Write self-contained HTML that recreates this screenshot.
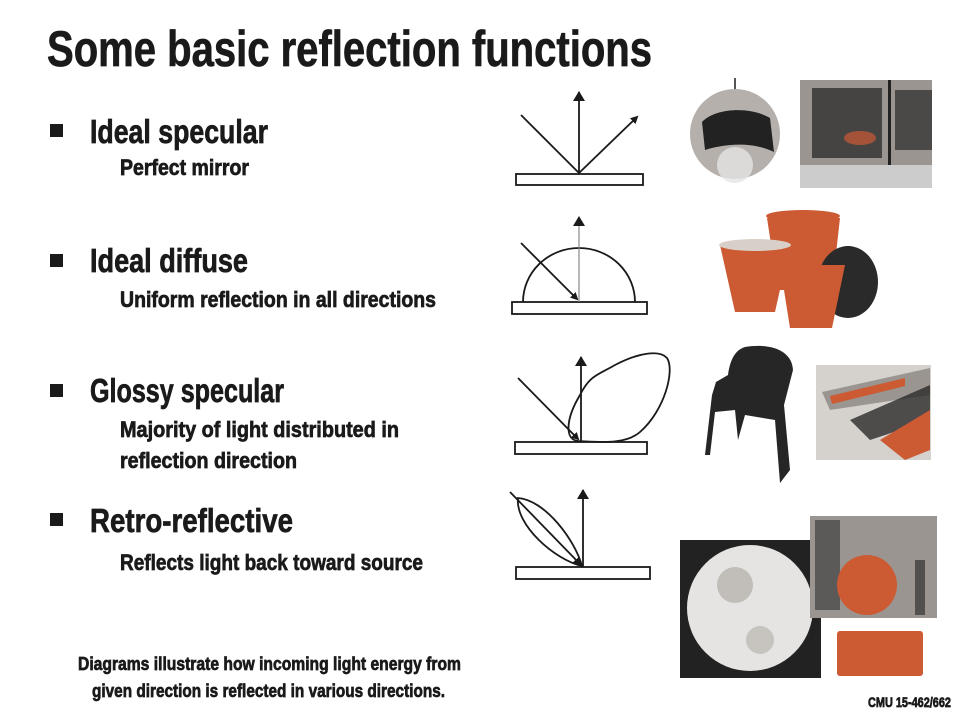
<!DOCTYPE html>
<html><head><meta charset="utf-8"><style>
html,body{margin:0;padding:0;background:#fff}
svg{display:block}
text{font-family:"Liberation Sans Narrow","Liberation Sans",sans-serif;font-weight:bold;fill:#1a1a1a;stroke:#1a1a1a;stroke-width:0.7}
</style></head><body>
<svg width="960" height="720" viewBox="0 0 960 720">
<defs>
<marker id="ah" markerWidth="8" markerHeight="8" refX="6" refY="4" orient="auto" markerUnits="userSpaceOnUse"><path d="M0,0 L8,4 L0,8 z" fill="#1a1a1a"/></marker>
<marker id="ahb" markerWidth="10" markerHeight="12" refX="9" refY="6" orient="auto" markerUnits="userSpaceOnUse"><path d="M0,0 L10,6 L0,12 z" fill="#1a1a1a"/></marker>
</defs>
<text x="47" y="66" font-size="50" stroke-width="1.4" textLength="605" lengthAdjust="spacingAndGlyphs">Some basic reflection functions</text>

<g>
<rect x="50" y="124" width="13" height="13" fill="#1a1a1a"/>
<text x="90" y="143" font-size="33" stroke-width="1" textLength="178" lengthAdjust="spacingAndGlyphs">Ideal specular</text>
<text x="120" y="175" font-size="22" textLength="129" lengthAdjust="spacingAndGlyphs">Perfect mirror</text>
</g>
<g>
<rect x="50" y="254" width="13" height="13" fill="#1a1a1a"/>
<text x="90" y="272" font-size="33" stroke-width="1" textLength="158" lengthAdjust="spacingAndGlyphs">Ideal diffuse</text>
<text x="120" y="307" font-size="22" textLength="316" lengthAdjust="spacingAndGlyphs">Uniform reflection in all directions</text>
</g>
<g>
<rect x="50" y="384" width="13" height="13" fill="#1a1a1a"/>
<text x="90" y="402" font-size="33" stroke-width="1" textLength="194" lengthAdjust="spacingAndGlyphs">Glossy specular</text>
<text x="120" y="437" font-size="22" textLength="279" lengthAdjust="spacingAndGlyphs">Majority of light distributed in</text>
<text x="120" y="468" font-size="22" textLength="177" lengthAdjust="spacingAndGlyphs">reflection direction</text>
</g>
<g>
<rect x="50" y="513" width="13" height="13" fill="#1a1a1a"/>
<text x="90" y="532" font-size="33" stroke-width="1" textLength="203" lengthAdjust="spacingAndGlyphs">Retro-reflective</text>
<text x="120" y="570" font-size="22" textLength="303" lengthAdjust="spacingAndGlyphs">Reflects light back toward source</text>
</g>
<g>
<text x="78" y="670" font-size="18" textLength="383" lengthAdjust="spacingAndGlyphs">Diagrams illustrate how incoming light energy from</text>
<text x="92" y="697" font-size="18" textLength="353" lengthAdjust="spacingAndGlyphs">given direction is reflected in various directions.</text>
</g>
<text x="868" y="707" font-size="14" stroke-width="0.4" textLength="83" lengthAdjust="spacingAndGlyphs">CMU 15-462/662</text>

<g stroke="#1a1a1a" stroke-width="1.8" fill="none">
<rect x="516" y="174" width="127" height="11" fill="#fff"/>
<line x1="579" y1="174" x2="579" y2="92" marker-end="url(#ahb)"/>
<line x1="521" y1="115" x2="579" y2="173"/>
<line x1="579" y1="173" x2="637" y2="117" marker-end="url(#ah)"/>
</g>
<g stroke="#1a1a1a" stroke-width="1.8" fill="none">
<rect x="512" y="302" width="135" height="12" fill="#fff"/>
<path d="M523,302 A56,54 0 0 1 635,302"/>
<line x1="579" y1="302" x2="579" y2="217" stroke="#888" stroke-width="1.2" marker-end="url(#ahb)"/>
<line x1="521" y1="243" x2="577" y2="299" marker-end="url(#ah)"/>
</g>
<g stroke="#1a1a1a" stroke-width="1.8" fill="none">
<rect x="515" y="442" width="132" height="12" fill="#fff"/>
<line x1="581" y1="442" x2="581" y2="357" marker-end="url(#ahb)"/>
<line x1="518" y1="378" x2="578" y2="439" marker-end="url(#ah)"/>
<path d="M578,441 C565,440 565,420 580,395 C590,375 598,375 615,365 C640,352 660,350 667,358 C675,370 665,410 640,432 C625,445 600,442 578,441 z"/>
</g>
<g stroke="#1a1a1a" stroke-width="1.8" fill="none">
<rect x="516" y="567" width="134" height="12" fill="#fff"/>
<line x1="583" y1="567" x2="583" y2="490" marker-end="url(#ahb)"/>
<line x1="510" y1="492" x2="580" y2="564" marker-end="url(#ah)"/>
<path d="M518,498 C545,500 575,540 582,566 C555,560 515,525 518,498 z"/>
</g>

<g>
<line x1="735" y1="78" x2="735" y2="92" stroke="#555" stroke-width="2"/>
<circle cx="735" cy="134" r="45" fill="#b5b0ab"/>
<path d="M702,122 C715,108 750,106 770,118 L774,152 C750,140 720,145 705,150 z" fill="#222"/>
<circle cx="735" cy="165" r="18" fill="#e5e5e5" opacity="0.8"/>
</g>
<g>
<rect x="800" y="80" width="132" height="108" fill="#9a9590"/>
<rect x="812" y="88" width="70" height="70" fill="#2a2a2a" opacity="0.75"/>
<rect x="888" y="80" width="3" height="108" fill="#222"/>
<rect x="895" y="90" width="37" height="60" fill="#2a2a2a" opacity="0.7"/>
<ellipse cx="860" cy="138" rx="16" ry="7" fill="#cc5a33" opacity="0.7"/>
<rect x="800" y="165" width="132" height="23" fill="#ccc"/>
</g>
<g fill="#cc5a33">
<path d="M767,218 L840,218 L832,290 L778,290 z"/>
<path d="M720,245 L790,245 L775,312 L735,312 z"/>
<ellipse cx="848" cy="282" rx="30" ry="36" fill="#2a2a2a"/>
<path d="M780,265 L845,265 L832,328 L790,328 z"/>
<ellipse cx="803" cy="216" rx="37" ry="6"/>
<ellipse cx="755" cy="245" rx="36" ry="6" fill="#d8d0c8"/>
</g>
<g fill="#262626">
<path d="M745,347 C770,343 792,350 793,370 L784,405 L790,470 L780,483 L775,420 L745,415 L738,440 L735,410 L715,412 L710,455 L705,455 L712,395 L716,382 L728,375 C730,360 735,350 745,347 z"/>
</g>
<g>
<rect x="816" y="365" width="115" height="95" fill="#d5d2ce"/>
<path d="M822,392 L930,368 L930,395 L830,410 z" fill="#9a9590"/>
<path d="M830,396 L905,378 L905,386 L832,404 z" fill="#cc5a33"/>
<path d="M850,420 L930,385 L930,420 L870,440 z" fill="#2a2a2a" opacity="0.8"/>
<path d="M880,440 L930,410 L930,450 L905,460 z" fill="#cc5a33"/>
</g>
<g>
<rect x="680" y="540" width="141" height="138" fill="#222"/>
<circle cx="750" cy="608" r="63" fill="#e6e4e2"/>
<circle cx="735" cy="585" r="18" fill="#a8a39e" opacity="0.6"/>
<circle cx="760" cy="640" r="14" fill="#a8a39e" opacity="0.5"/>
</g>
<g>
<rect x="810" y="516" width="127" height="102" fill="#9a9590"/>
<rect x="815" y="520" width="25" height="90" fill="#333" opacity="0.6"/>
<circle cx="867" cy="585" r="30" fill="#cc5a33"/>
<rect x="915" y="560" width="10" height="55" fill="#333" opacity="0.7"/>
</g>
<rect x="837" y="631" width="86" height="45" rx="3" fill="#cc5a33"/>
</svg>
</body></html>
